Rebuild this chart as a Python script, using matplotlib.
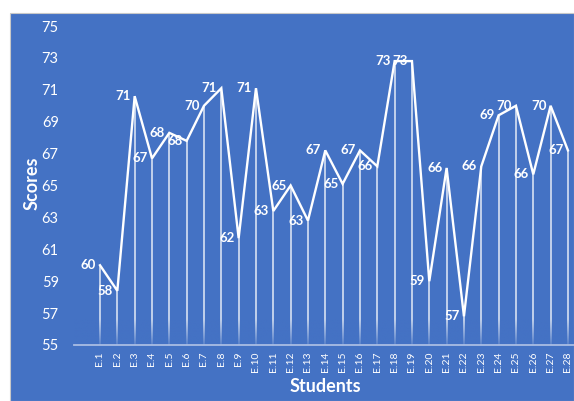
import matplotlib
matplotlib.use("Agg")
import matplotlib.pyplot as plt
from matplotlib.colors import to_rgb
from matplotlib.patches import Rectangle
import numpy as np

plt.rcParams['font.family'] = ['Lato', 'DejaVu Sans']

students = [f"E.{i}" for i in range(1, 29)]
scores = [60.0, 58.4, 70.6, 66.7, 68.3, 67.8, 70.0, 71.1, 61.7, 71.1,
          63.4, 65.0, 62.8, 67.2, 65.1, 67.2, 66.2, 72.8, 72.8, 59.0,
          66.1, 56.8, 66.2, 69.4, 70.0, 65.7, 70.0, 67.2]
y_ticks = list(range(55, 76, 2))

BLUE = "#4472C4"
W, H = 574, 401
fig = plt.figure(figsize=(W / 100, H / 100), dpi=100)
fig.patch.set_facecolor("white")
fig.patches.append(Rectangle((10 / W, 0), 1 - 10 / W, (H - 13) / H, transform=fig.transFigure,
                             facecolor=BLUE, edgecolor="#C8C8C8", linewidth=0.8, zorder=-10))

ax = fig.add_axes([74 / W, (H - 345) / H, 1 - 74 / W, (345 - 26) / H])
ax.set_facecolor("none")
ax.set_zorder(5)

x = np.arange(1, len(scores) + 1)
ymin, ymax = 55, 75
xmin, xmax = -0.5, 28.35

# drop lines
ax.vlines(x, ymin, scores, colors="white", alpha=0.85, linewidth=1.1, zorder=2)

# fade drop lines near the axis with a blue gradient overlay
band = 1.6
rgb = np.array(to_rgb(BLUE))
grad = np.zeros((64, 2, 4))
grad[..., :3] = rgb
alpha_col = np.linspace(0.0, 0.85, 64)[::-1]  # top row transparent (origin lower)
grad[..., 3] = np.linspace(0.85, 0.0, 64)[:, None]
ax.imshow(grad, extent=(xmin, xmax, ymin, ymin + band), origin="lower",
          aspect="auto", interpolation="bilinear", zorder=2.5)

ax.plot(x, scores, color="white", linewidth=1.7, zorder=3, solid_joinstyle="miter")

for xi, v in zip(x, scores):
    ax.annotate(f"{int(v + 0.5):d}", (xi, v), xytext=(-3, 0), textcoords="offset points",
                ha="right", va="center", color="white", fontsize=9.5, fontweight="bold",
                zorder=4, annotation_clip=False)

ax.set_xlim(xmin, xmax)
ax.set_ylim(ymin, ymax)
ax.set_yticks(y_ticks)
ax.set_xticks(x)
ax.set_xticklabels(students, rotation=90, fontsize=7.5, color="white", va="top")
ax.tick_params(axis="x", length=0, pad=5)
ax.tick_params(axis="y", length=0, pad=11, labelsize=10.5, labelcolor="white")

for s in ["top", "right", "left"]:
    ax.spines[s].set_visible(False)
ax.spines["bottom"].set_color("#A9BDE4")
ax.spines["bottom"].set_linewidth(1.3)
ax.spines["bottom"].set_zorder(3.5)

fig.text(32 / W, 1 - 183 / H, "Scores", rotation=90, ha="center", va="center",
         color="white", fontsize=13, fontweight="bold")
fig.text(325 / W, 1 - 386 / H, "Students", ha="center", va="center",
         color="white", fontsize=13, fontweight="bold")

fig.savefig("out.png", dpi=100)
